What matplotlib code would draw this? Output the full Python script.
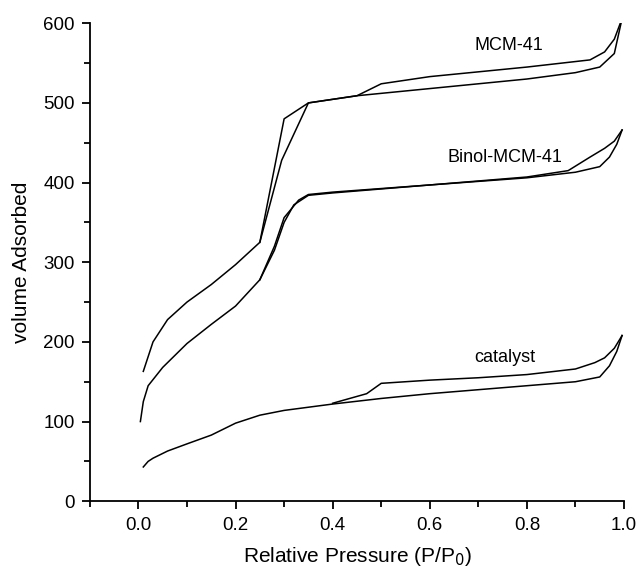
import matplotlib.pyplot as plt
from matplotlib.ticker import MultipleLocator

plt.rcParams["font.family"] = ["Liberation Sans", "DejaVu Sans"]

# MCM-41 isotherm
mcm_ads_x = [0.01, 0.03, 0.06, 0.1, 0.15, 0.2, 0.25, 0.295, 0.35, 0.45, 0.6, 0.8, 0.9, 0.95, 0.98, 0.996]
mcm_ads_y = [163, 200, 228, 250, 272, 297, 325, 428, 500, 509, 518, 530, 538, 545, 562, 606]
mcm_des_x = [0.996, 0.98, 0.96, 0.93, 0.8, 0.6, 0.5, 0.45, 0.35, 0.30, 0.25]
mcm_des_y = [606, 580, 564, 554, 545, 533, 524, 509, 500, 480, 325]

# Binol-MCM-41 isotherm
binol_ads_x = [0.004, 0.01, 0.02, 0.05, 0.1, 0.15, 0.2, 0.25, 0.28, 0.3, 0.32, 0.35, 0.4, 0.6, 0.8, 0.9, 0.95, 0.97, 0.985, 0.996]
binol_ads_y = [100, 125, 145, 168, 198, 222, 245, 278, 315, 350, 372, 384, 387, 397, 406, 413, 420, 432, 448, 466]
binol_des_x = [0.996, 0.98, 0.96, 0.93, 0.885, 0.8, 0.6, 0.4, 0.35, 0.33, 0.3, 0.28, 0.25]
binol_des_y = [466, 452, 443, 432, 415, 407, 397, 388, 385, 378, 356, 320, 278]

# catalyst isotherm
cat_ads_x = [0.01, 0.02, 0.03, 0.06, 0.1, 0.15, 0.2, 0.25, 0.3, 0.4, 0.5, 0.6, 0.7, 0.8, 0.9, 0.95, 0.97, 0.985, 0.996]
cat_ads_y = [43, 50, 54, 63, 72, 83, 98, 108, 114, 122, 129, 135, 140, 145, 150, 156, 170, 188, 208]
cat_des_x = [0.996, 0.98, 0.96, 0.94, 0.9, 0.8, 0.7, 0.6, 0.5, 0.47, 0.4]
cat_des_y = [208, 192, 180, 174, 166, 159, 155, 152, 148, 135, 123]

labels = ["MCM-41", "Binol-MCM-41", "catalyst"]
label_pos = [(0.763, 572), (0.755, 432), (0.755, 181)]

fig = plt.figure(figsize=(6.42, 5.67), dpi=100)
ax = fig.add_axes([0.140, 0.116, 0.832, 0.843])

for xs, ys in [(mcm_ads_x, mcm_ads_y), (mcm_des_x, mcm_des_y),
               (binol_ads_x, binol_ads_y), (binol_des_x, binol_des_y),
               (cat_ads_x, cat_ads_y), (cat_des_x, cat_des_y)]:
    ax.plot(xs, ys, color="black", linewidth=1.1)

for txt, (tx, ty) in zip(labels, label_pos):
    ax.text(tx, ty, txt, fontsize=13, ha="center", va="center")

ax.set_xlim(-0.1, 1.0)
ax.set_ylim(0, 600)
ax.xaxis.set_major_locator(MultipleLocator(0.2))
ax.xaxis.set_minor_locator(MultipleLocator(0.1))
ax.yaxis.set_major_locator(MultipleLocator(100))
ax.yaxis.set_minor_locator(MultipleLocator(50))
ax.set_xticks([0.0, 0.2, 0.4, 0.6, 0.8, 1.0])

ax.spines["top"].set_visible(False)
ax.spines["right"].set_visible(False)
for s in ["left", "bottom"]:
    ax.spines[s].set_linewidth(1.3)
ax.tick_params(which="major", direction="out", length=6, width=1.3, labelsize=13.5, pad=5)
ax.tick_params(which="minor", direction="out", length=4, width=1.3)

ax.set_xlabel("Relative Pressure (P/P$_0$)", fontsize=15, labelpad=8)
ax.set_ylabel("volume Adsorbed", fontsize=15, labelpad=9)

plt.savefig("out.png", dpi=100, facecolor="white")
